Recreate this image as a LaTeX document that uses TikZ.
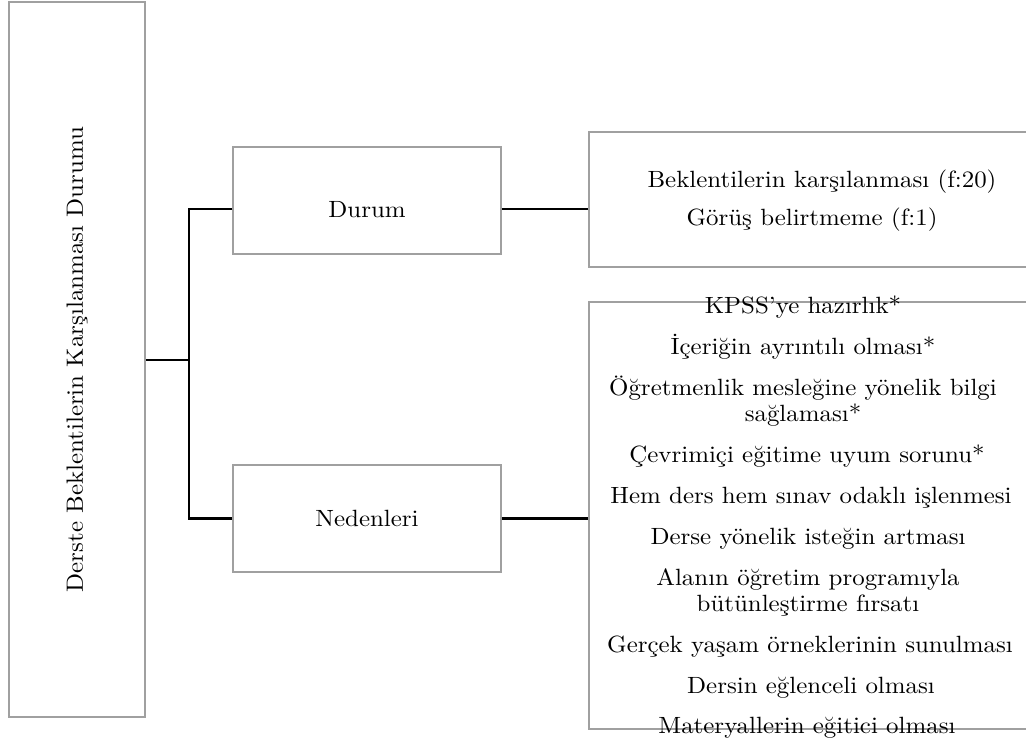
\documentclass[tikz,border=0pt]{standalone}
\usepackage{fontspec}
\setmainfont{lmroman10-regular}[Extension=.otf, FakeStretch=1.06]
\definecolor{boxgray}{HTML}{A0A0A0}
\tikzset{
  box/.style={draw=boxgray, line width=1.5pt, inner sep=0pt, fill=white},
  lbl/.style={anchor=base, inner sep=0pt, font=\fontsize{23.5}{28}\selectfont},
  conn/.style={draw=black, line width=2.8pt}
}
\begin{document}
\begin{tikzpicture}[x=1pt,y=-1pt]
\useasboundingbox (0,0) rectangle (1026,747);
% boxes
\node[box, rotate=90, minimum width=715pt, minimum height=136pt,
      font=\fontsize{23.5}{28}\selectfont] (root) at (77,359.5) {Derste Beklentilerin Karşılanması Durumu};
\node[box, minimum width=268pt, minimum height=107pt] (durum) at (367,200.5) {};
\node[box, minimum width=268pt, minimum height=107pt] (neden) at (367,518.5) {};
\node[box, minimum width=451pt, minimum height=135pt] (rbox1) at (814.5,199.5) {};
\node[box, minimum width=451pt, minimum height=427pt] (rbox2) at (814.5,515.5) {};
% labels
\node[lbl] (tdurum) at (367,217) {Durum};
\node[lbl] (tneden) at (367,526) {Nedenleri};
\node[lbl] (r1a) at (822,187) {Beklentilerin karşılanması (f:20)};
\node[lbl] (r1b) at (812,225) {Görüş belirtmeme (f:1)};
\node[lbl] (n1) at (803,313) {KPSS'ye hazırlık*};
\node[lbl] (n2) at (803,354) {İçeriğin ayrıntılı olması*};
\node[lbl] (n3) at (803,395) {Öğretmenlik mesleğine yönelik bilgi};
\node[lbl] (n3b) at (803,421) {sağlaması*};
\node[lbl] (n4) at (807,462) {Çevrimiçi eğitime uyum sorunu*};
\node[lbl] (n5) at (811,503) {Hem ders hem sınav odaklı işlenmesi};
\node[lbl] (n6) at (808,544) {Derse yönelik isteğin artması};
\node[lbl] (n7) at (808,585) {Alanın öğretim programıyla};
\node[lbl] (n7b) at (808,611) {bütünleştirme fırsatı};
\node[lbl] (n8) at (810,652) {Gerçek yaşam örneklerinin sunulması};
\node[lbl] (n9) at (811,693) {Dersin eğlenceli olması};
\node[lbl] (n10) at (807,733) {Materyallerin eğitici olması};
% connectors
\coordinate (jtop) at (189,209);
\coordinate (jmid) at (189,360);
\coordinate (jbot) at (189,518.5);
\draw[conn] (root.south |- jmid) -- (jmid);
\draw[conn] (durum.west |- jtop) -- (jtop) -- (jbot) -- (neden.west);
\draw[conn] (durum.east |- jtop) -- (rbox1.west |- jtop);
\draw[conn] (neden.east) -- (rbox2.west |- neden.east);
\end{tikzpicture}
\end{document}
